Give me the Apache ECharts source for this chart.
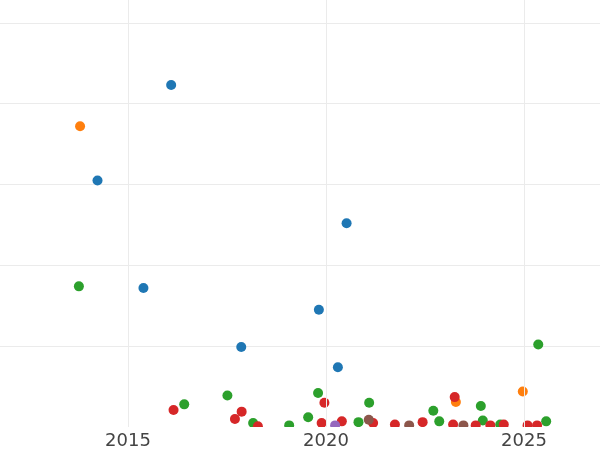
<!DOCTYPE html>
<html>
<head>
<meta charset="utf-8">
<script src="https://cdn.jsdelivr.net/npm/echarts@6/dist/echarts.min.js"></script>
<style>
html,body{margin:0;padding:0;background:#fff;width:600px;height:450px;overflow:hidden;position:relative;}
#c{position:absolute;left:-70px;top:-58px;width:792px;height:508px;}
</style>
</head>
<body>
<div id="c"></div>
<script>
const seriesNames = ['blue', 'orange', 'green', 'red', 'purple', 'brown'];
const seriesColors = ['#1f77b4', '#ff7f0e', '#2ca02c', '#d62728', '#9467bd', '#8c564b'];

const blueX = [2016.09, 2014.23, 2020.52, 2015.39, 2019.82, 2017.86, 2020.30];
const blueY = [4.23, 3.05, 2.52, 1.72, 1.45, 0.99, 0.74];

const orangeX = [2013.79, 2024.97, 2023.28];
const orangeY = [3.72, 0.44, 0.31];

const greenX = [2013.76, 2017.51, 2016.42, 2018.16, 2019.07, 2025.36, 2019.80, 2021.09, 2023.91, 2022.71, 2019.55, 2023.96, 2022.86, 2025.56, 2020.82, 2024.40];
const greenY = [1.74, 0.39, 0.28, 0.05, 0.02, 1.02, 0.42, 0.30, 0.26, 0.20, 0.12, 0.08, 0.07, 0.07, 0.06, 0.03];

const redX = [2016.15, 2017.87, 2017.70, 2018.28, 2023.25, 2019.96, 2020.40, 2019.89, 2021.19, 2022.44, 2021.74, 2023.21, 2023.78, 2024.15, 2024.49, 2025.09, 2025.33];
const redY = [0.21, 0.19, 0.10, 0.01, 0.37, 0.30, 0.07, 0.05, 0.05, 0.06, 0.03, 0.03, 0.02, 0.02, 0.03, 0.02, 0.02];

const purpleX = [2020.23];
const purpleY = [0.02];

const brownX = [2021.08, 2022.10, 2023.47];
const brownY = [0.09, 0.02, 0.02];

const xTicks = [2010, 2015, 2020, 2025, 2030];

const allX = [blueX, orangeX, greenX, redX, purpleX, brownX];
const allY = [blueY, orangeY, greenY, redY, purpleY, brownY];

const chart = echarts.init(document.getElementById('c'), null, {renderer: 'canvas'});
chart.setOption({
  animation: false,
  backgroundColor: '#ffffff',
  grid: {left: 0, right: 0, top: 0, bottom: 23, containLabel: false, outerBoundsMode: 'none'},
  xAxis: {
    type: 'value',
    min: xTicks[0], max: xTicks[xTicks.length - 1], interval: 5,
    z: 60,
    axisLine: {show: false},
    axisTick: {show: false},
    axisLabel: {
      show: true, margin: 5,
      fontFamily: 'DejaVu Sans', fontSize: 18, color: '#444444',
      formatter: v => String(v)
    },
    splitLine: {show: true, lineStyle: {color: '#ebebeb', width: 1}}
  },
  yAxis: {
    type: 'value', min: 0, max: 6, interval: 1,
    axisLine: {show: false}, axisTick: {show: false}, axisLabel: {show: false},
    splitLine: {show: true, lineStyle: {color: '#ebebeb', width: 1}}
  },
  graphic: [{
    type: 'rect', z: 50, silent: true,
    shape: {x: 0, y: 485, width: 792, height: 23},
    style: {fill: '#ffffff'}
  }],
  series: seriesNames.map((n, i) => ({
    name: n, type: 'scatter', symbol: 'circle', symbolSize: 10, z: 2,
    itemStyle: {color: seriesColors[i], opacity: 1},
    data: allX[i].map((x, j) => [x, allY[i][j]])
  }))
});
</script>
</body>
</html>
